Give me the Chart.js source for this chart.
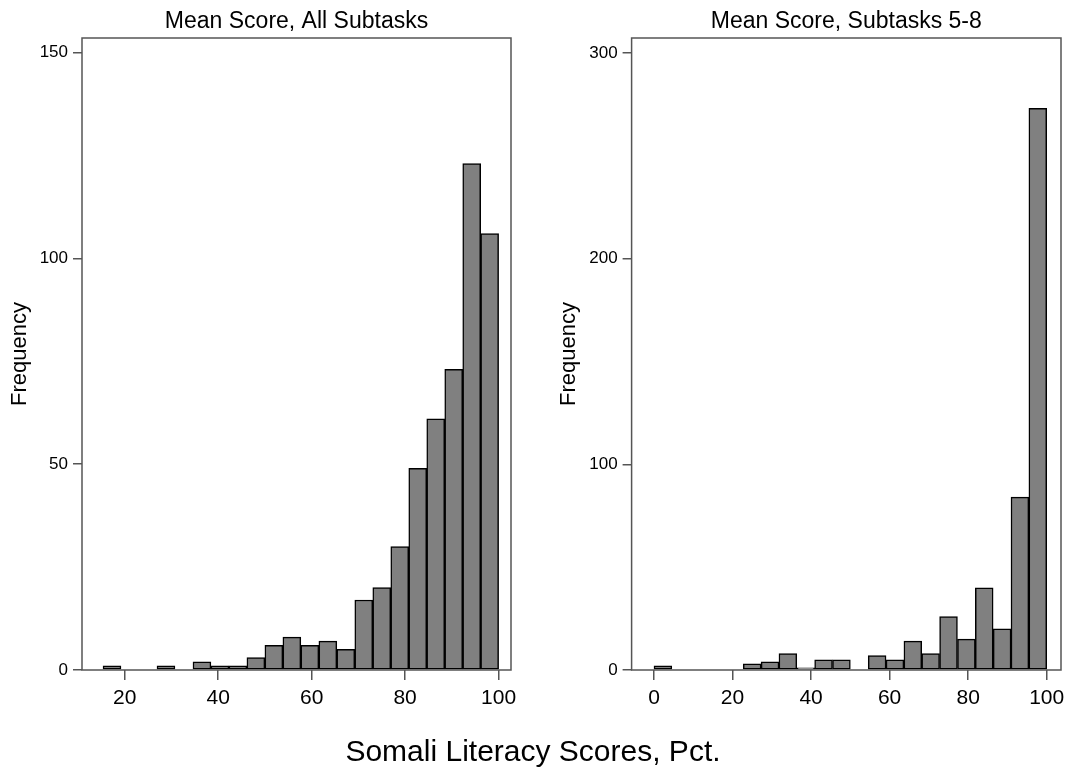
<!DOCTYPE html>
<html>
<head>
<meta charset="utf-8">
<title>Somali Literacy Scores</title>
<script src="https://cdn.jsdelivr.net/npm/chart.js@4.4.1/dist/chart.umd.min.js"></script>
<style>
  html, body { margin: 0; padding: 0; background: #ffffff; }
  body { width: 1072px; height: 772px; position: relative; overflow: hidden; }
  canvas { position: absolute; top: 0; }
  #leftChart { left: 0; }
  #rightChart { left: 540px; }
  #xCaption {
    position: absolute; left: 0; top: 736px; width: 1066px;
    text-align: center; white-space: nowrap;
    font-family: 'Liberation Sans', Arial, sans-serif;
    font-size: 30px; line-height: 30px; color: #000;
  }
</style>
</head>
<body>
<canvas id="leftChart" width="540" height="772"></canvas>
<canvas id="rightChart" width="532" height="772"></canvas>
<div id="xCaption">Somali Literacy Scores, Pct.</div>
<script>
// Histogram bins: bin midpoints (percent score) and counts per bin
const allBinMids = [17.27, 21.12, 24.97, 28.82, 32.67, 36.52, 40.37, 44.21, 48.06, 51.91, 55.76,
                    59.61, 63.46, 67.30, 71.15, 75.00, 78.85, 82.70, 86.55, 90.40, 94.25, 98.09];
const allCounts = [1, 0, 0, 1, 0, 2, 1, 1, 3, 6, 8, 6, 7, 5, 17, 20, 30, 49, 61, 73, 123, 106];

const subBinMids = [2.27, 6.82, 11.36, 15.91, 20.45, 25.00, 29.55, 34.09, 38.64, 43.18, 47.73,
                    52.27, 56.82, 61.36, 65.91, 70.45, 75.00, 79.55, 84.09, 88.64, 93.18, 97.73];
const subCounts = [2, 0, 0, 0, 0, 3, 4, 8, 1, 5, 5, 0, 7, 5, 14, 8, 26, 15, 40, 20, 84, 273];

// Axis tick labels
const allXTicks = [20, 40, 60, 80, 100];
const allYTicks = [0, 50, 100, 150];
const subXTicks = [0, 20, 40, 60, 80, 100];
const subYTicks = [0, 100, 200, 300];

const titles = ['Mean Score, All Subtasks', 'Mean Score, Subtasks 5-8'];
const yTitle = 'Frequency';

const FONT = "'Liberation Sans', Arial, sans-serif";
const AXIS_GREY = '#555555';

// Outline around the plot region
const framePlugin = {
  id: 'frame',
  afterDatasetsDraw(chart) {
    const a = chart.chartArea;
    const ctx = chart.ctx;
    ctx.save();
    ctx.strokeStyle = AXIS_GREY;
    ctx.lineWidth = 1.5;
    ctx.strokeRect(a.left, a.top, a.right - a.left, a.bottom - a.top);
    ctx.restore();
  }
};

function histogram(canvasId, cfg) {
  const data = cfg.mids.map((m, i) => ({ x: m, y: cfg.counts[i] }));
  return new Chart(document.getElementById(canvasId), {
    type: 'bar',
    data: {
      datasets: [{
        data: data,
        backgroundColor: '#808080',
        borderColor: '#000000',
        borderWidth: 1.5,
        borderSkipped: false,
        barPercentage: 1,
        categoryPercentage: 1
      }]
    },
    options: {
      responsive: false,
      animation: false,
      devicePixelRatio: 1,
      layout: { padding: { left: 0, right: cfg.rightPad, top: 0, bottom: 0 } },
      plugins: {
        legend: { display: false },
        tooltip: { enabled: false },
        title: {
          display: true,
          text: cfg.title,
          fullSize: false,
          color: '#000',
          font: { family: FONT, size: 23, weight: 'normal', lineHeight: 1.2 },
          padding: { top: 7.5, bottom: 2.9 }
        }
      },
      scales: {
        x: {
          type: 'linear',
          position: 'bottom',
          min: cfg.xMin,
          max: cfg.xMax,
          offset: false,
          afterBuildTicks: s => { s.ticks = cfg.xTicks.map(v => ({ value: v })); },
          afterFit: s => { s.height = 102; },
          border: { display: false },
          grid: {
            display: true, offset: false, drawOnChartArea: false, drawTicks: true,
            tickLength: 10, color: AXIS_GREY, lineWidth: 1.5
          },
          ticks: {
            color: '#000', padding: 6, maxRotation: 0, autoSkip: false,
            font: { family: FONT, size: 21 }
          }
        },
        y: {
          type: 'linear',
          position: 'left',
          min: 0,
          max: cfg.yMax,
          afterBuildTicks: s => { s.ticks = cfg.yTicks.map(v => ({ value: v })); },
          afterFit: s => { s.width = cfg.yWidth; },
          border: { display: false },
          grid: {
            display: true, drawOnChartArea: false, drawTicks: true,
            tickLength: 9, color: AXIS_GREY, lineWidth: 1.5
          },
          ticks: {
            color: '#000', padding: 5, autoSkip: false,
            font: { family: FONT, size: 17 }
          },
          title: {
            display: true,
            text: yTitle,
            color: '#000',
            font: { family: FONT, size: 22, lineHeight: 1.2 },
            padding: { top: cfg.yTitlePad, bottom: 0 }
          }
        }
      }
    },
    plugins: [framePlugin]
  });
}

histogram('leftChart', {
  mids: allBinMids, counts: allCounts, title: titles[0],
  xTicks: allXTicks, yTicks: allYTicks,
  xMin: 10.85, xMax: 102.66, yMax: 153.5,
  yWidth: 82, rightPad: 29, yTitlePad: 6.6
});

histogram('rightChart', {
  mids: subBinMids, counts: subCounts, title: titles[1],
  xTicks: subXTicks, yTicks: subYTicks,
  xMin: -5.7, xMax: 103.64, yMax: 307.2,
  yWidth: 91.6, rightPad: 11, yTitlePad: 16.2
});
</script>
</body>
</html>
